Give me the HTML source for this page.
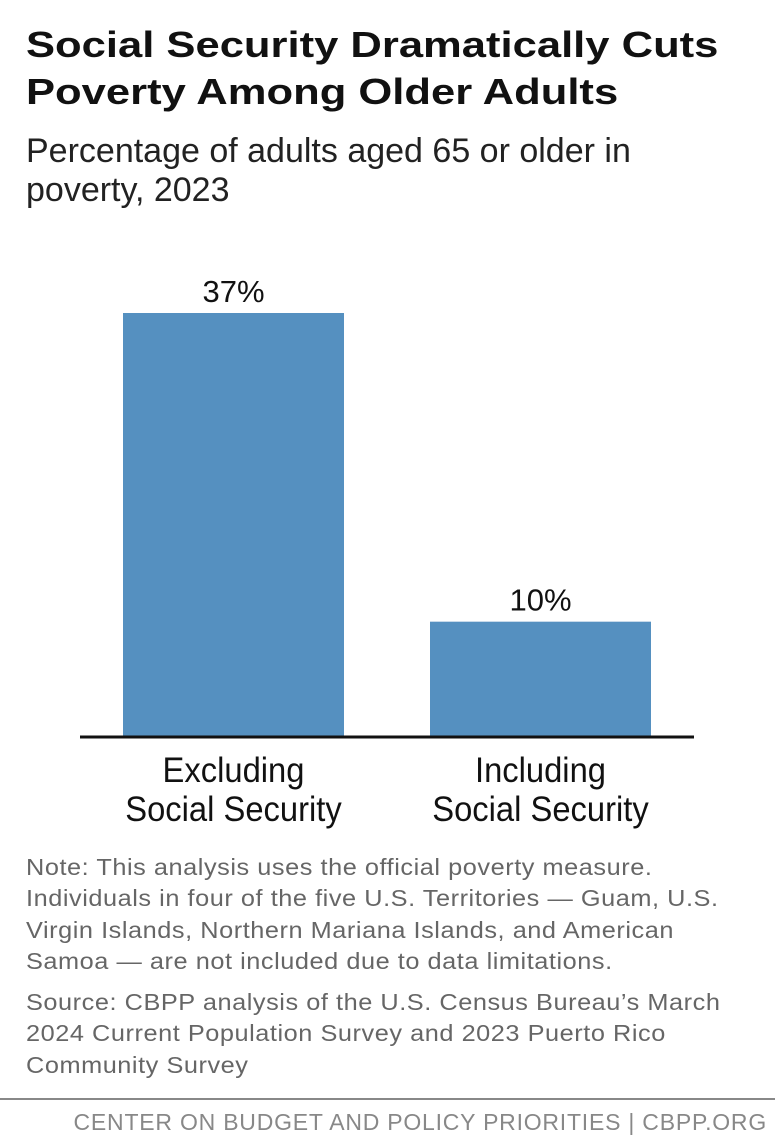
<!DOCTYPE html>
<html><head><meta charset="utf-8"><style>
body{margin:0;background:#fff;width:775px;height:1134px;overflow:hidden;font-family:"Liberation Sans",sans-serif;position:relative}
.t{position:absolute;left:26px;top:21px;font-size:36px;font-weight:bold;line-height:47px;color:#111;transform:scaleX(1.21);transform-origin:0 0;white-space:nowrap}
.s{position:absolute;left:26px;top:132px;font-size:34px;line-height:39px;color:#222;white-space:nowrap}
.n{position:absolute;left:26px;font-size:23px;line-height:31.3px;color:#666;white-space:nowrap;letter-spacing:0.5px;transform:scaleX(1.1);transform-origin:0 0}
.f{position:absolute;right:8px;top:1109px;font-size:23px;color:#888;letter-spacing:0.78px;white-space:nowrap}
</style></head><body>
<div class="t">Social Security Dramatically Cuts<br>Poverty Among Older Adults</div>
<div class="s">Percentage of adults aged 65 or older in<br>poverty, 2023</div>
<svg id="c" width="775" height="850" style="position:absolute;left:0;top:0"></svg>
<div class="n" style="top:852px">Note: This analysis uses the official poverty measure.<br>Individuals in four of the five U.S. Territories — Guam, U.S.<br>Virgin Islands, Northern Mariana Islands, and American<br>Samoa — are not included due to data limitations.</div>
<div class="n" style="top:987px">Source: CBPP analysis of the U.S. Census Bureau’s March<br>2024 Current Population Survey and 2023 Puerto Rico<br>Community Survey</div>
<div style="position:absolute;left:0;top:1098px;width:775px;height:2px;background:#888"></div>
<div class="f">CENTER ON BUDGET AND POLICY PRIORITIES | CBPP.ORG</div>
<script>
const categories=[["Excluding","Social Security"],["Including","Social Security"]];
const values=[37,10];
const labels=["37%","10%"];
const svg=document.getElementById('c');
const NS='http://www.w3.org/2000/svg';
const base=736, pxPer=423/37;
const y=v=>base-v*pxPer;
const x=i=>123+i*307;
const bw=221;
function mk(t,a){const e=document.createElementNS(NS,t);for(const k in a)e.setAttribute(k,a[k]);svg.appendChild(e);return e;}
values.forEach((v,i)=>{
 const r=mk('rect',{x:x(i),y:y(v),width:bw,height:base-y(v),fill:'#5590c0'});
 
 
 const t=mk('text',{x:x(i)+bw/2,y:y(v)-11,'text-anchor':'middle','font-size':31,fill:'#111'});
 t.textContent=labels[i];
 
 
 categories[i].forEach((line,j)=>{
  const c=mk('text',{x:x(i)+bw/2,y:782+j*39,'text-anchor':'middle','font-size':35,fill:'#111'});
  c.textContent=line;
  
  
  const w=c.getComputedTextLength();
  c.setAttribute('textLength',w*0.935);
  c.setAttribute('lengthAdjust','spacingAndGlyphs');
 });
});
const ax=mk('line',{x1:80,x2:694,y1:base+1,y2:base+1,stroke:'#111','stroke-width':3});


</script>
</body></html>
